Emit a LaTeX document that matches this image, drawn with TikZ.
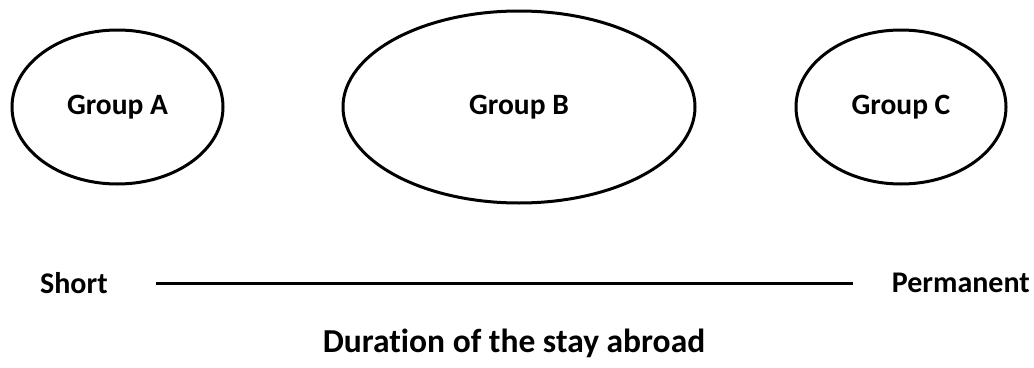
\documentclass[tikz,border=0pt]{standalone}
\usepackage{fontspec}
\setmainfont{Carlito}[Ligatures=NoCommon]
\usetikzlibrary{shapes.geometric}
\begin{document}
\begin{tikzpicture}[x=1pt,y=-1pt,
  group/.style={draw=black, line width=3pt, ellipse, inner sep=0pt,
    font=\fontsize{29.5}{34}\selectfont\bfseries},
  label/.style={font=\fontsize{30}{34}\selectfont\bfseries, inner sep=0pt},
  title/.style={font=\fontsize{33.5}{38}\selectfont\bfseries, inner sep=0pt}]
  \useasboundingbox (0,0) rectangle (1034,367);
  % the three groups
  \node[group, minimum width=211pt, minimum height=154pt] (A) at (117.5,107) {Group A};
  \node[group, minimum width=352pt, minimum height=192pt] (B) at (519,107) {Group B};
  \node[group, minimum width=210pt, minimum height=154pt] (C) at (901,107) {Group C};
  % duration scale
  \node[label, anchor=west] (short) at (40,283) {Short};
  \node[label, anchor=east] (perm) at (1030,283) {Permanent};
  \coordinate (l0) at (156,283);
  \coordinate (l1) at (853,283);
  \draw[line width=3pt] (l0) -- (l1);
  \node[title] (dur) at (514,343) {Duration of the stay abroad};
\end{tikzpicture}
\end{document}
